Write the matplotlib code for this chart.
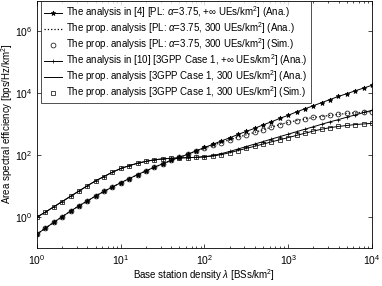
import numpy as np
import matplotlib.pyplot as plt

plt.rcParams['font.family'] = ['Liberation Sans', 'DejaVu Sans']
plt.rcParams['mathtext.fontset'] = 'custom'
plt.rcParams['mathtext.rm'] = 'Liberation Sans'
plt.rcParams['mathtext.it'] = 'Liberation Sans:italic'

# BS density (log10 of BSs/km^2), one point per marker
log_lam = [0.0, 0.1, 0.2, 0.3, 0.4, 0.5, 0.6, 0.7, 0.8, 0.9,
           1.0, 1.1, 1.2, 1.3, 1.4, 1.5, 1.6, 1.7, 1.8, 1.9,
           2.0, 2.1, 2.2, 2.3, 2.4, 2.5, 2.6, 2.7, 2.8, 2.9,
           3.0, 3.1, 3.2, 3.3, 3.4, 3.5, 3.6, 3.7, 3.8, 3.9, 4.0]

# log10 of ASE [bps/Hz/km^2]
pl_inf = [-0.55, -0.36, -0.17, 0.01, 0.19, 0.36, 0.52, 0.68, 0.83, 0.97,
          1.11, 1.24, 1.37, 1.49, 1.61, 1.72, 1.83, 1.93, 2.03, 2.14,
          2.25, 2.35, 2.46, 2.56, 2.67, 2.77, 2.87, 2.98, 3.08, 3.19,
          3.29, 3.40, 3.50, 3.60, 3.70, 3.80, 3.90, 3.99, 4.08, 4.17, 4.26]
pl_300 = [-0.55, -0.36, -0.17, 0.01, 0.19, 0.36, 0.52, 0.68, 0.83, 0.97,
          1.11, 1.24, 1.37, 1.49, 1.61, 1.72, 1.83, 1.93, 2.03, 2.13,
          2.23, 2.32, 2.41, 2.50, 2.58, 2.66, 2.74, 2.82, 2.91, 2.99,
          3.06, 3.12, 3.17, 3.22, 3.25, 3.29, 3.32, 3.35, 3.37, 3.39, 3.41]
gpp_inf = [0.00, 0.16, 0.33, 0.50, 0.67, 0.84, 1.01, 1.17, 1.31, 1.45,
           1.57, 1.66, 1.74, 1.80, 1.85, 1.88, 1.90, 1.91, 1.92, 1.93,
           1.95, 1.99, 2.05, 2.12, 2.20, 2.28, 2.36, 2.44, 2.52, 2.60,
           2.68, 2.76, 2.84, 2.92, 3.00, 3.08, 3.15, 3.23, 3.30, 3.38, 3.45]
gpp_300 = [0.00, 0.16, 0.33, 0.50, 0.67, 0.84, 1.01, 1.17, 1.31, 1.45,
           1.57, 1.66, 1.74, 1.80, 1.85, 1.88, 1.90, 1.91, 1.92, 1.93,
           1.95, 1.97, 2.02, 2.08, 2.15, 2.22, 2.29, 2.36, 2.43, 2.50,
           2.57, 2.64, 2.71, 2.78, 2.84, 2.89, 2.93, 2.96, 2.99, 3.01, 3.03]

labels = [
    r'The analysis in [4] [PL: $\it{\alpha}$=3.75, +$\infty$ UEs/km$^2$] (Ana.)',
    r'The prop. analysis [PL: $\it{\alpha}$=3.75, 300 UEs/km$^2$] (Ana.)',
    r'The prop. analysis [PL: $\it{\alpha}$=3.75, 300 UEs/km$^2$] (Sim.)',
    r'The analysis in [10] [3GPP Case 1, +$\infty$ UEs/km$^2$] (Ana.)',
    r'The prop. analysis [3GPP Case 1, 300 UEs/km$^2$] (Ana.)',
    r'The prop. analysis [3GPP Case 1, 300 UEs/km$^2$] (Sim.)',
]

x = 10 ** np.array(log_lam)

fig = plt.figure(figsize=(3.82, 2.86), dpi=100)
ax = fig.add_axes([37 / 382, 38 / 286, 335 / 382, 247.5 / 286])

ms = 3.5
ax.plot(x, 10 ** np.array(pl_inf), '-*', color='k', lw=0.7, ms=ms, mew=0.6, label=labels[0])
ax.plot(x, 10 ** np.array(pl_300), ':', color='k', lw=0.9, label=labels[1])
ax.plot(x, 10 ** np.array(pl_300), 'o', color='k', mfc='none', ms=ms, mew=0.5, label=labels[2])
ax.plot(x, 10 ** np.array(gpp_inf), '-+', color='k', lw=0.7, ms=ms, mew=0.5, label=labels[3])
ax.plot(x, 10 ** np.array(gpp_300), '-', color='k', lw=0.7, label=labels[4])
ax.plot(x, 10 ** np.array(gpp_300), 's', color='k', mfc='none', ms=ms - 0.5, mew=0.5, label=labels[5])

ax.set_xscale('log')
ax.set_yscale('log')
ax.set_xlim(1, 1e4)
ax.set_ylim(1e-1, 1e7)
ax.set_yticks([1e0, 1e2, 1e4, 1e6])
ax.yaxis.set_minor_locator(plt.NullLocator())
ax.tick_params(which='both', direction='in', top=True, right=True, labelsize=7.5, width=0.5)
ax.tick_params(which='major', length=3)
ax.tick_params(which='minor', length=1.5)
for s in ax.spines.values():
    s.set_linewidth(0.6)

ax.set_xlabel(r'Base station density $\it{\lambda}$ [BSs/km$^2$]', fontsize=7)
ax.set_ylabel(r'Area spectral efficiency [bps/Hz/km$^2$]', fontsize=7)
ax.xaxis.set_label_coords(0.5, -0.077)
ax.yaxis.set_label_coords(-0.066, 0.5)

leg = ax.legend(loc='upper left', bbox_to_anchor=(0.012, 0.996), fontsize=7.0,
                numpoints=1, handlelength=1.9, borderaxespad=0.0, frameon=True,
                fancybox=False, edgecolor='k', labelspacing=0.02,
                handletextpad=0.4, borderpad=0.3)
leg.get_frame().set_linewidth(0.6)

fig.savefig('out.png', dpi=100)
